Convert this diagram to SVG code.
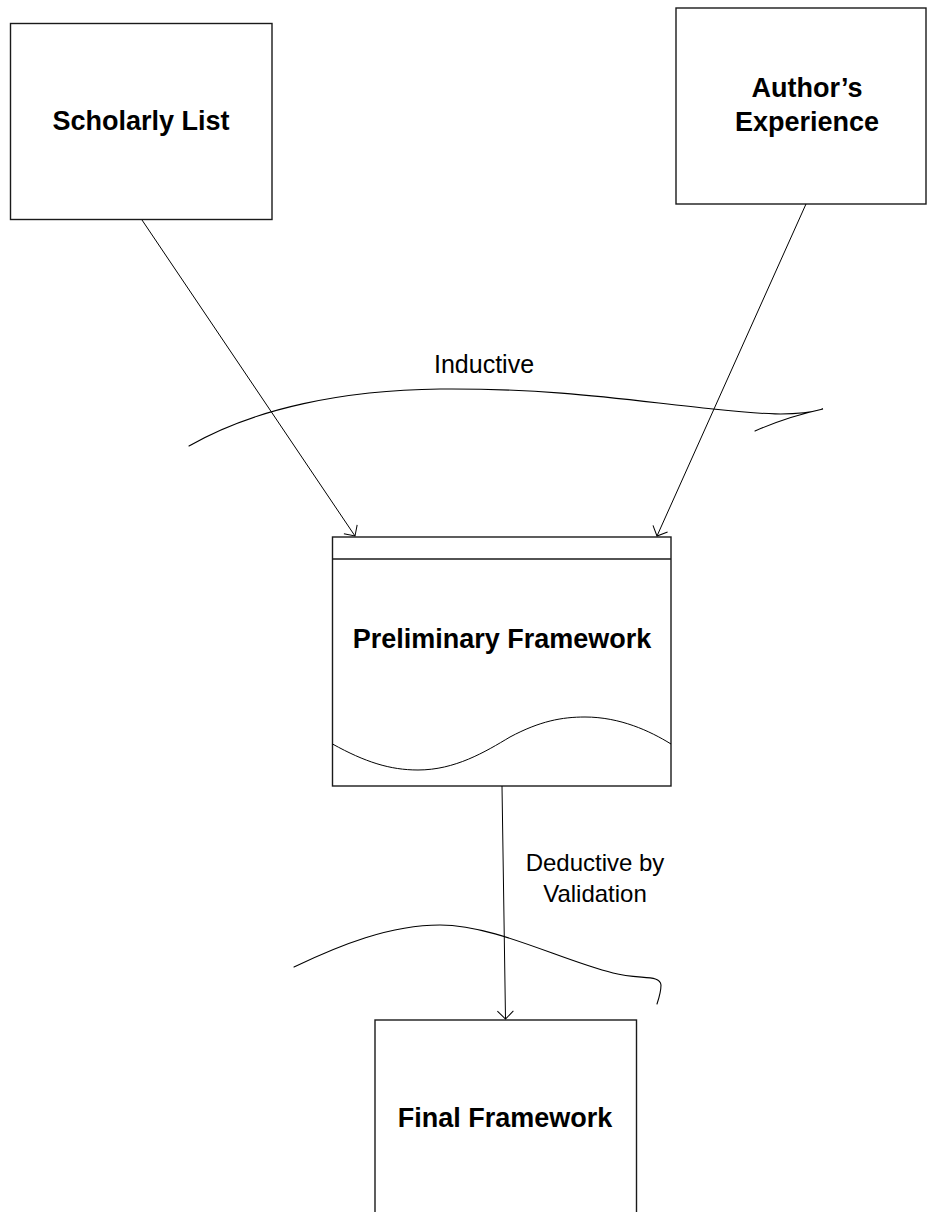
<svg xmlns="http://www.w3.org/2000/svg" width="927" height="1212" viewBox="0 0 927 1212">
  <style>
    .box { fill: #ffffff; stroke: #1a1a1a; stroke-width: 1.4; }
    .title { font-family: "Liberation Sans", Arial, sans-serif; font-weight: bold; font-size: 27px; fill: #000; text-anchor: middle; }
    .label { font-family: "Liberation Sans", Arial, sans-serif; font-size: 24px; fill: #000; text-anchor: middle; }
    .edge { fill: none; stroke: #000; stroke-width: 1; }
    .sketch { fill: none; stroke: #000; stroke-width: 1.1; stroke-linecap: round; }
  </style>
  <defs>
    <marker id="open-arrow" markerUnits="userSpaceOnUse" markerWidth="20" markerHeight="20" viewBox="-10 -10 20 20" refX="0" refY="0" orient="auto">
      <path d="M-8,-8 L0,0 L-8,8" fill="none" stroke="#000" stroke-width="1"/>
    </marker>
  </defs>

  <rect width="927" height="1212" fill="#ffffff"/>

  <!-- source boxes -->
  <g id="scholarly-list">
    <rect class="box" x="10.5" y="23.5" width="261.5" height="196"/>
    <text class="title" x="141" y="130">Scholarly List</text>
  </g>

  <g id="authors-experience">
    <rect class="box" x="676" y="8" width="250" height="196"/>
    <text class="title" x="807" y="97">Author’s</text>
    <text class="title" x="807" y="131">Experience</text>
  </g>

  <!-- document-shaped middle node -->
  <g id="preliminary-framework">
    <rect class="box" x="332.5" y="537" width="338.5" height="249"/>
    <line class="box" x1="332.5" y1="559" x2="671" y2="559"/>
    <path class="edge" d="M332.5,744 C365,762 390,770 418,770 C455,770 485,752 510,737 C540,721 562,717 585,717 C620,717 650,731 671,744"/>
    <text class="title" x="502" y="648">Preliminary Framework</text>
  </g>

  <g id="final-framework">
    <rect class="box" x="375" y="1020" width="261.5" height="220"/>
    <text class="title" x="505" y="1127">Final Framework</text>
  </g>

  <!-- connectors and their labels -->
  <g id="connectors">
    <line class="edge" x1="142" y1="220" x2="355" y2="536" marker-end="url(#open-arrow)"/>
    <line class="edge" x1="806" y1="204" x2="657" y2="536" marker-end="url(#open-arrow)"/>
    <line class="edge" x1="502" y1="786" x2="505.5" y2="1019" marker-end="url(#open-arrow)"/>

    <!-- hand-drawn boundary strokes -->
    <path class="sketch" d="M189,446 C255,408 345,390 440,389 C560,388 640,402 713,409 C760,414 795,417 823,409 C800,414 780,420 755,431"/>
    <path class="sketch" d="M294,967 C340,945 390,925 440,925 C495,925 560,960 613,973 C640,980 660,974 661,985 C661,992 659,998 657,1004"/>

    <text class="label" x="484" y="373" style="font-size:25px">Inductive</text>
    <text class="label" x="595" y="871">Deductive by</text>
    <text class="label" x="595" y="902">Validation</text>
  </g>
</svg>
